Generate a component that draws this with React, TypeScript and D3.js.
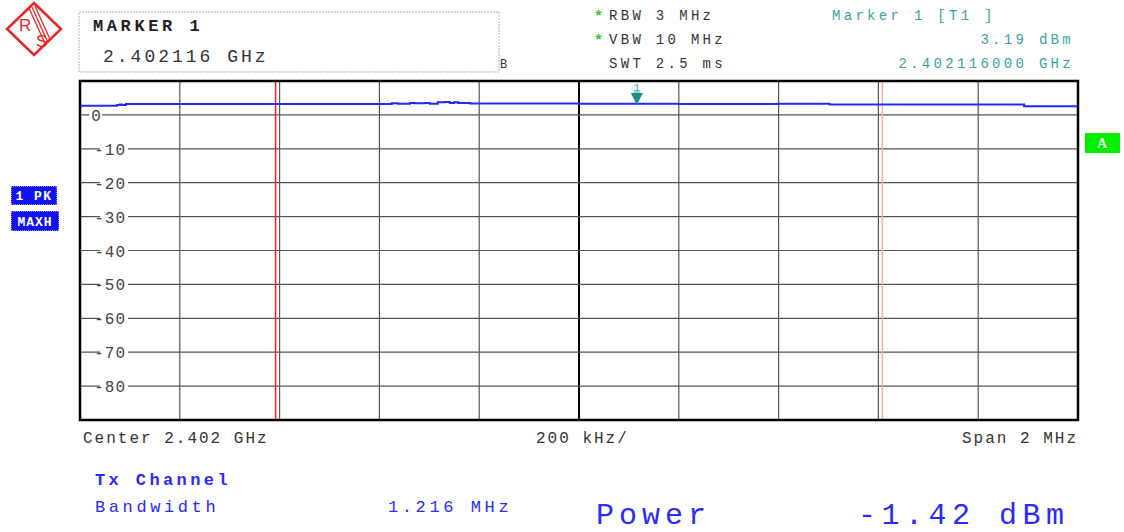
import React from "react";
import * as d3 from "d3";

// trace: offset from center (MHz) and level (dBm)
const traceOffsets = [
  -1.0, -0.96, -0.932, -0.926, -0.92, -0.916, -0.908, -0.9, -0.6, -0.399, -0.375, -0.363,
  -0.339, -0.329, -0.309, -0.299, -0.283, -0.269, -0.259, -0.25, -0.242, -0.218, 0.0, 0.2,
  0.4, 0.5, 0.497, 0.502, 0.6, 0.8, 0.888, 0.892, 0.95, 1.0,
];
const traceLevels = [
  2.7, 2.7, 2.7, 2.9, 3.1, 2.9, 3.2, 3.25, 3.25, 3.25, 3.4, 3.3,
  3.5, 3.4, 3.5, 3.3, 3.7, 3.8, 3.5, 3.7, 3.5, 3.35, 3.3, 3.25,
  3.3, 3.3, 3.3, 3.05, 3.05, 3.05, 3.05, 2.55, 2.55, 2.5,
];
const yTicks = [0, -10, -20, -30, -40, -50, -60, -70, -80];
const xDivisions = [-0.8, -0.6, -0.4, -0.2, 0, 0.2, 0.4, 0.6, 0.8];
const channelEdges = [-0.608, 0.608];
const markerOffset = 0.116;
const markerLevel = 3.19;

const mono = "'Liberation Mono', 'Courier New', monospace";
const teal = "#38a3a3";
const blue = "#2a2aff";

export default function App() {
  const left = 80, right = 1078, top = 81, bottom = 420;
  const x = d3.scaleLinear().domain([-1, 1]).range([left, right]);
  const y = d3.scaleLinear().domain([10, -90]).range([top, bottom]);

  const pts: [number, number][] = traceOffsets.map((f, i) => [f, traceLevels[i]]);
  const line = d3
    .line<[number, number]>()
    .x((d) => x(d[0]))
    .y((d) => y(d[1]))
    .curve(d3.curveStepAfter);

  const mx = x(markerOffset);
  const my = y(markerLevel);

  return (
    <svg width={1124} height={532} style={{ position: "absolute", left: 0, top: 0, background: "#fff" }}>
      {/* logo */}
      <defs>
        <clipPath id="dia">
          <polygon points="34,3 61,29 34,55 7,29" />
        </clipPath>
      </defs>
      <polygon points="34,3 61,29 34,55 7,29" fill="#fff" stroke="#e8262a" strokeWidth={2.5} />
      <g clipPath="url(#dia)" stroke="#e8262a" strokeWidth={1.3}>
        <line x1={29} y1={8} x2={47} y2={48} />
        <line x1={32} y1={7} x2={50} y2={47} />
        <line x1={35} y1={6} x2={53} y2={46} />
      </g>
      <text x={19} y={31} fontFamily="Liberation Sans, Arial" fontSize={17} fill="#e8262a">R</text>
      <text x={36} y={47} fontFamily="Liberation Sans, Arial" fontSize={17} fill="#e8262a">S</text>

      {/* marker box */}
      <rect x={79} y={12} width={420} height={60} fill="none" stroke="#b0b0b0" strokeDasharray="2,1" />
      <text x={93} y={31} fontFamily={mono} fontWeight="bold" fontSize={17} letterSpacing={3.6} fill="#222">MARKER 1</text>
      <text x={103} y={62} fontFamily={mono} fontSize={18} letterSpacing={3} fill="#333">2.402116 GHz</text>
      <text x={500} y={68} fontFamily={mono} fontSize={12} fill="#333">B</text>

      {/* settings */}
      {["RBW 3 MHz", "VBW 10 MHz", "SWT 2.5 ms"].map((t, i) => (
        <g key={t}>
          {i < 2 && <text x={594} y={21 + i * 24} fontFamily={mono} fontSize={15} fontWeight="bold" fill="#22cc22">*</text>}
          <text x={609} y={20 + i * 24} fontFamily={mono} fontSize={14} letterSpacing={3.3} fill="#333">{t}</text>
        </g>
      ))}
      <text x={832} y={20} fontFamily={mono} fontSize={14} letterSpacing={3.3} fill={teal}>Marker 1 [T1 ]</text>
      <text x={1074} y={44} textAnchor="end" fontFamily={mono} fontSize={14} letterSpacing={3.3} fill={teal}>3.19 dBm</text>
      <text x={1074} y={68} textAnchor="end" fontFamily={mono} fontSize={14} letterSpacing={3.3} fill={teal}>2.402116000 GHz</text>

      {/* side labels */}
      <rect x={11} y={186} width={46} height={19} fill="#1212f0" stroke="#fff" strokeDasharray="1,1" />
      <text x={34} y={200} textAnchor="middle" fontFamily={mono} fontWeight="bold" fontSize={13} letterSpacing={1.5} fill="#fff">1 PK</text>
      <rect x={11} y={211} width={48} height={20} fill="#1212f0" stroke="#fff" strokeDasharray="1,1" />
      <text x={35} y={226} textAnchor="middle" fontFamily={mono} fontWeight="bold" fontSize={13} letterSpacing={1} fill="#fff">MAXH</text>
      <rect x={1085} y={133} width={35} height={20} fill="#00ee00" />
      <text x={1102} y={148} textAnchor="middle" fontFamily="Liberation Serif, serif" fontWeight="bold" fontSize={14} fill="#fff">A</text>

      {/* grid */}
      {xDivisions.map((f) => (
        <line key={f} x1={x(f)} x2={x(f)} y1={top} y2={bottom} stroke={f === 0 ? "#000" : "#555"} strokeWidth={f === 0 ? 2 : 1.2} />
      ))}
      {yTicks.map((v) => (
        <line key={v} x1={left} x2={right} y1={y(v)} y2={y(v)} stroke="#555" strokeWidth={1.2} />
      ))}
      {yTicks.map((v) =>
        v === 0 ? (
          <g key={v}>
            <rect x={89} y={y(v) - 8} width={13} height={16} fill="#fff" />
            <text x={96} y={y(v) + 6} textAnchor="middle" fontFamily={mono} fontSize={16} fill="#444">0</text>
          </g>
        ) : (
          <g key={v}>
            <rect x={100} y={y(v) - 8} width={28} height={16} fill="#fff" />
            <text x={126} y={y(v) + 6} textAnchor="end" fontFamily={mono} fontSize={16} letterSpacing={1} fill="#444">{String(v)}</text>
          </g>
        )
      )}

      {/* channel limits */}
      <line x1={x(channelEdges[0])} x2={x(channelEdges[0])} y1={top} y2={bottom} stroke="#ff2020" strokeWidth={1.5} />
      <line x1={x(channelEdges[1])} x2={x(channelEdges[1])} y1={top} y2={bottom} stroke="#ffaaaa" strokeWidth={1.5} />

      {/* trace */}
      <path d={line(pts) ?? ""} fill="none" stroke="#1f2bff" strokeWidth={2} />

      {/* marker */}
      <path d={`M${mx - 6},${my - 11} L${mx + 6},${my - 11} L${mx},${my + 1} Z`} fill="#1a8c8c" />
      <text x={mx} y={91} textAnchor="middle" fontFamily={mono} fontSize={11} fill={teal}>1</text>
      <line x1={mx - 3} x2={mx + 3} y1={92} y2={92} stroke={teal} strokeWidth={1} />

      {/* frame */}
      <rect x={left} y={top} width={right - left} height={bottom - top} fill="none" stroke="#000" strokeWidth={2.5} />

      {/* footer */}
      <text x={83} y={443} fontFamily={mono} fontSize={16} letterSpacing={2} fill="#333">Center 2.402 GHz</text>
      <text x={536} y={443} fontFamily={mono} fontSize={16} letterSpacing={2} fill="#333">200 kHz/</text>
      <text x={1078} y={443} textAnchor="end" fontFamily={mono} fontSize={16} letterSpacing={2} fill="#333">Span 2 MHz</text>

      <text x={95} y={485} fontFamily={mono} fontWeight="bold" fontSize={17} letterSpacing={3.4} fill={blue}>Tx Channel</text>
      <text x={95} y={512} fontFamily={mono} fontSize={17} letterSpacing={3.6} fill={blue}>Bandwidth</text>
      <text x={388} y={512} fontFamily={mono} fontSize={17} letterSpacing={3.6} fill={blue}>1.216 MHz</text>
      <text x={596} y={524} fontFamily={mono} fontSize={30} letterSpacing={5} fill={blue}>Power</text>
      <text x={858} y={524} fontFamily={mono} fontSize={30} letterSpacing={5.5} fill={blue}>-1.42 dBm</text>
    </svg>
  );
}
